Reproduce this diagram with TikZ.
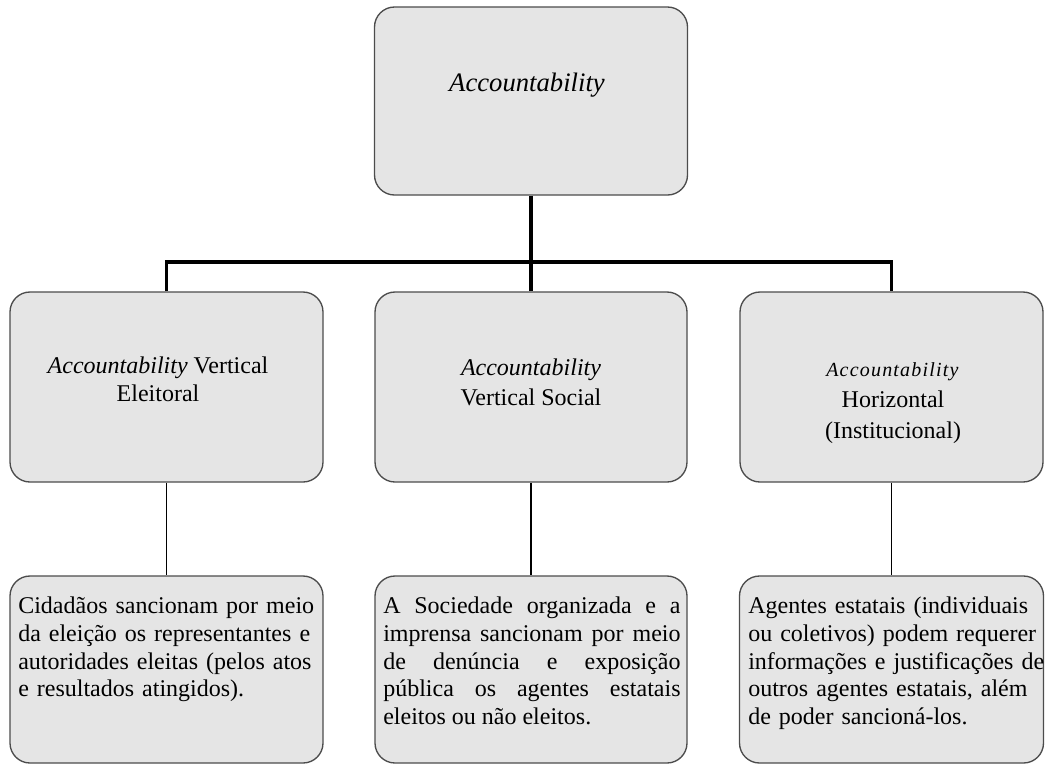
\documentclass[tikz,border=0pt]{standalone}
\usepackage{fontspec}
\setmainfont{Liberation Serif}
\usetikzlibrary{positioning}

\begin{document}
\begin{tikzpicture}[
    x=0.75pt, y=-0.75pt,
    box/.style={draw=black!70, line width=1pt, fill=black!10, rounded corners=15pt},
    head/.style={font=\fontsize{18}{21}\selectfont, align=center, inner sep=0pt},
    desc/.style={font=\fontsize{18}{20.7}\selectfont, inner sep=0pt, anchor=north west, text width=223pt},
    trunk/.style={line width=2.8pt},
    link/.style={line width=1.1pt},
]
\useasboundingbox (0,0) rectangle (1045,765);

% boxes
\node[box, minimum width=234.75pt, minimum height=141pt] (acc) at (531,101) {};
\node[box, minimum width=234.75pt, minimum height=142.5pt] (el) at (166.5,387) {};
\node[box, minimum width=234pt, minimum height=142.5pt] (so) at (531,387) {};
\node[box, minimum width=227.25pt, minimum height=142.5pt] (ho) at (891.5,387) {};
\node[box, minimum width=234.75pt, minimum height=140.25pt] (el-d) at (166.5,669.5) {};
\node[box, minimum width=234pt, minimum height=140.25pt] (so-d) at (531,669.5) {};
\node[box, minimum width=228pt, minimum height=140.25pt] (ho-d) at (891.5,669.5) {};

% connectors
\coordinate (fork) at (531,262);
\draw[trunk] (acc.south) -- (so.north);
\draw[trunk] (el.north) |- (fork) -| (ho.north);
\draw[link] (el.south) -- (el-d.north);
\draw[link] (so.south) -- (so-d.north);
\draw[link] (ho.south) -- (ho-d.north);

% titles
\node[head, font=\fontsize{20}{24}\selectfont] (acc-t) at (527,85) {\textit{Accountability}};
\node[head] (el-t) at (158,379) {\textit{Accountability} Vertical\\Eleitoral};
\node[head, font=\fontsize{18}{22.5}\selectfont] (so-t) at (531,382) {\textit{Accountability}\\Vertical Social};
\node[head, font=\fontsize{18}{23.5}\selectfont] (ho-t) at (893,403) {{\fontsize{15}{23.5}\selectfont\addfontfeature{LetterSpace=6}\textit{Accountability}}\\Horizontal\\(Institucional)};

% descriptions
\node[desc, align=left, text width=240pt] (el-dt) at (18,597)
  {Cidadãos sancionam por meio\\da eleição os representantes e\\autoridades eleitas (pelos atos\\e resultados atingidos).};
\node[desc, align=justify] (so-dt) at (383,597)
  {A Sociedade organizada e a\linebreak imprensa sancionam por meio\linebreak de denúncia e exposição\linebreak pública os agentes estatais\linebreak eleitos ou não eleitos.};
\node[desc, align=left, text width=240pt] (ho-dt) at (748,597)
  {Agentes estatais (individuais\\ou coletivos) podem requerer\\informações e justificações de\\outros agentes estatais, além\\de poder sancioná-los.};

\end{tikzpicture}
\end{document}
